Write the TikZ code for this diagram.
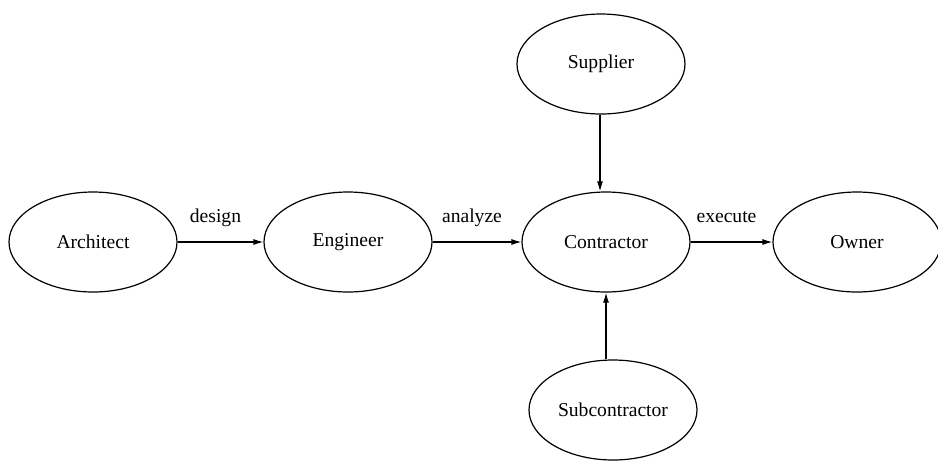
\documentclass[tikz,border=0pt]{standalone}
\usepackage{fontspec}
\setmainfont{Liberation Serif}
\usetikzlibrary{shapes.geometric,arrows.meta}
\tikzset{
  party/.style={draw, ellipse, line width=0.6pt, inner sep=0pt,
    minimum width=84pt, minimum height=50pt, font=\fontsize{9.8}{11}\selectfont},
  flow/.style={-{Latex[length=5pt,width=3pt]}, line width=0.6pt},
  verb/.style={above=4pt, xshift=-2.5pt, text height=7pt, text depth=2pt,
    font=\fontsize{9.8}{11}\selectfont}
}
\begin{document}
\begin{tikzpicture}[x=0.5pt,y=-0.5pt]
      \useasboundingbox (0,0) rectangle (938,462);
      \draw
        (93,242) node[party] (architect){Architect}
        (348,242) node[party] (engineer){Engineer}
        (606,242) node[party] (contractor){Contractor}
        (857,242) node[party] (owner){Owner}
        (601,64) node[party] (supplier){Supplier}
        (613,410) node[party] (subcontractor){Subcontractor};
      \begin{scope}[flow]
        \draw (architect) to node[verb]{design} (engineer);
        \draw (engineer) to node[verb]{analyze} (contractor);
        \draw (contractor) to node[verb]{execute} (owner);
        \draw (supplier.south -| 600,0) to (contractor.north -| 600,0);
        \draw (subcontractor.north -| 606,0) to (contractor.south);
      \end{scope}
    \end{tikzpicture}
\end{document}
